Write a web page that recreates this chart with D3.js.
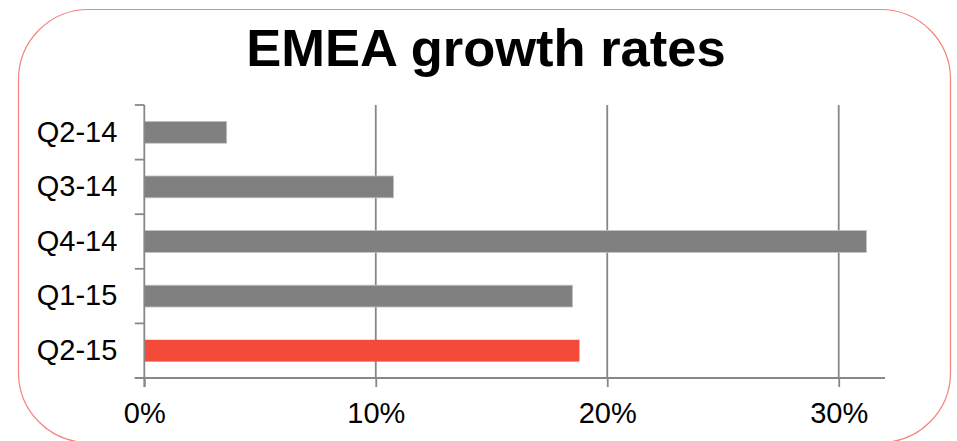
<!DOCTYPE html>
<html>
<head>
<meta charset="utf-8">
<script src="https://cdn.jsdelivr.net/npm/d3@7"></script>
<style>
  html, body { margin: 0; padding: 0; background: #fff; }
  svg { display: block; font-family: "Liberation Sans", Arial, sans-serif; }
</style>
</head>
<body>
<svg id="chart" width="957" height="441"></svg>
<script>
// Quarterly growth, EMEA
const categories = ["Q2-14", "Q3-14", "Q4-14", "Q1-15", "Q2-15"];
const growth = [0.0356, 0.1077, 0.312, 0.185, 0.188];
const tickValues = [0, 0.1, 0.2, 0.3];
const highlight = "Q2-15";

const svg = d3.select("#chart");

// Rounded frame
svg.append("rect")
  .attr("x", 18.5).attr("y", 9.5)
  .attr("width", 932).attr("height", 433)
  .attr("rx", 70).attr("ry", 70)
  .attr("fill", "none")
  .attr("stroke", "#f4847c")
  .attr("stroke-width", 1.2);

// Title
svg.append("text")
  .attr("x", 486).attr("y", 65.5)
  .attr("text-anchor", "middle")
  .attr("font-size", 52.5)
  .attr("font-weight", "bold")
  .attr("fill", "#000")
  .text("EMEA growth rates");

const plot = { left: 144.3, right: 885, top: 105, bottom: 378 };

const x = d3.scaleLinear().domain([0, 0.32]).range([plot.left, plot.right]);
const y = d3.scaleBand().domain(categories)
  .range([plot.top, plot.bottom])
  .paddingInner(0.6).paddingOuter(0.3);

const axisColor = "#878787";

// Vertical gridlines
svg.append("g").selectAll("line")
  .data(tickValues.filter(d => d > 0))
  .join("line")
  .attr("x1", d => x(d)).attr("x2", d => x(d))
  .attr("y1", plot.top).attr("y2", plot.bottom)
  .attr("stroke", axisColor).attr("stroke-width", 1.8);

// Bars
svg.append("g").selectAll("rect")
  .data(categories.map((c, i) => ({ c, v: growth[i] })))
  .join("rect")
  .attr("x", x(0))
  .attr("y", d => y(d.c))
  .attr("width", d => x(d.v) - x(0))
  .attr("height", y.bandwidth())
  .attr("fill", d => d.c === highlight ? "#f44a3a" : "#808080")
  .attr("stroke", d => d.c === highlight ? "none" : "#c4c4c4")
  .attr("stroke-width", 0.8);

// Bottom axis
const xAxis = svg.append("g")
  .attr("transform", `translate(0,${plot.bottom})`)
  .call(d3.axisBottom(x)
    .tickValues(tickValues)
    .tickFormat(d3.format(".0%"))
    .tickSize(9)
    .tickPadding(15));
xAxis.select(".domain").remove();
xAxis.selectAll(".tick line").attr("stroke", axisColor).attr("stroke-width", 1.8);
xAxis.selectAll(".tick text")
  .attr("font-size", 29)
  .attr("font-family", "'Liberation Sans', Arial, sans-serif")
  .attr("fill", "#000");
svg.append("line")
  .attr("x1", plot.left - 9.5).attr("x2", plot.right)
  .attr("y1", plot.bottom).attr("y2", plot.bottom)
  .attr("stroke", axisColor).attr("stroke-width", 1.8);

// Left axis: labels plus ticks between categories
const yAxis = svg.append("g")
  .attr("transform", `translate(${plot.left},0)`)
  .call(d3.axisLeft(y).tickSize(0).tickPadding(27));
yAxis.select(".domain").remove();
yAxis.selectAll(".tick text")
  .attr("font-size", 29)
  .attr("font-family", "'Liberation Sans', Arial, sans-serif")
  .attr("fill", "#000");

const step = y.step();
const boundaries = d3.range(categories.length + 1).map(i => plot.top + i * step);
svg.append("g").selectAll("line")
  .data(boundaries)
  .join("line")
  .attr("x1", plot.left - 9.5).attr("x2", plot.left)
  .attr("y1", d => d).attr("y2", d => d)
  .attr("stroke", axisColor).attr("stroke-width", 1.8);
svg.append("line")
  .attr("x1", plot.left).attr("x2", plot.left)
  .attr("y1", plot.top).attr("y2", plot.bottom + 9)
  .attr("stroke", axisColor).attr("stroke-width", 1.8);
</script>
</body>
</html>
